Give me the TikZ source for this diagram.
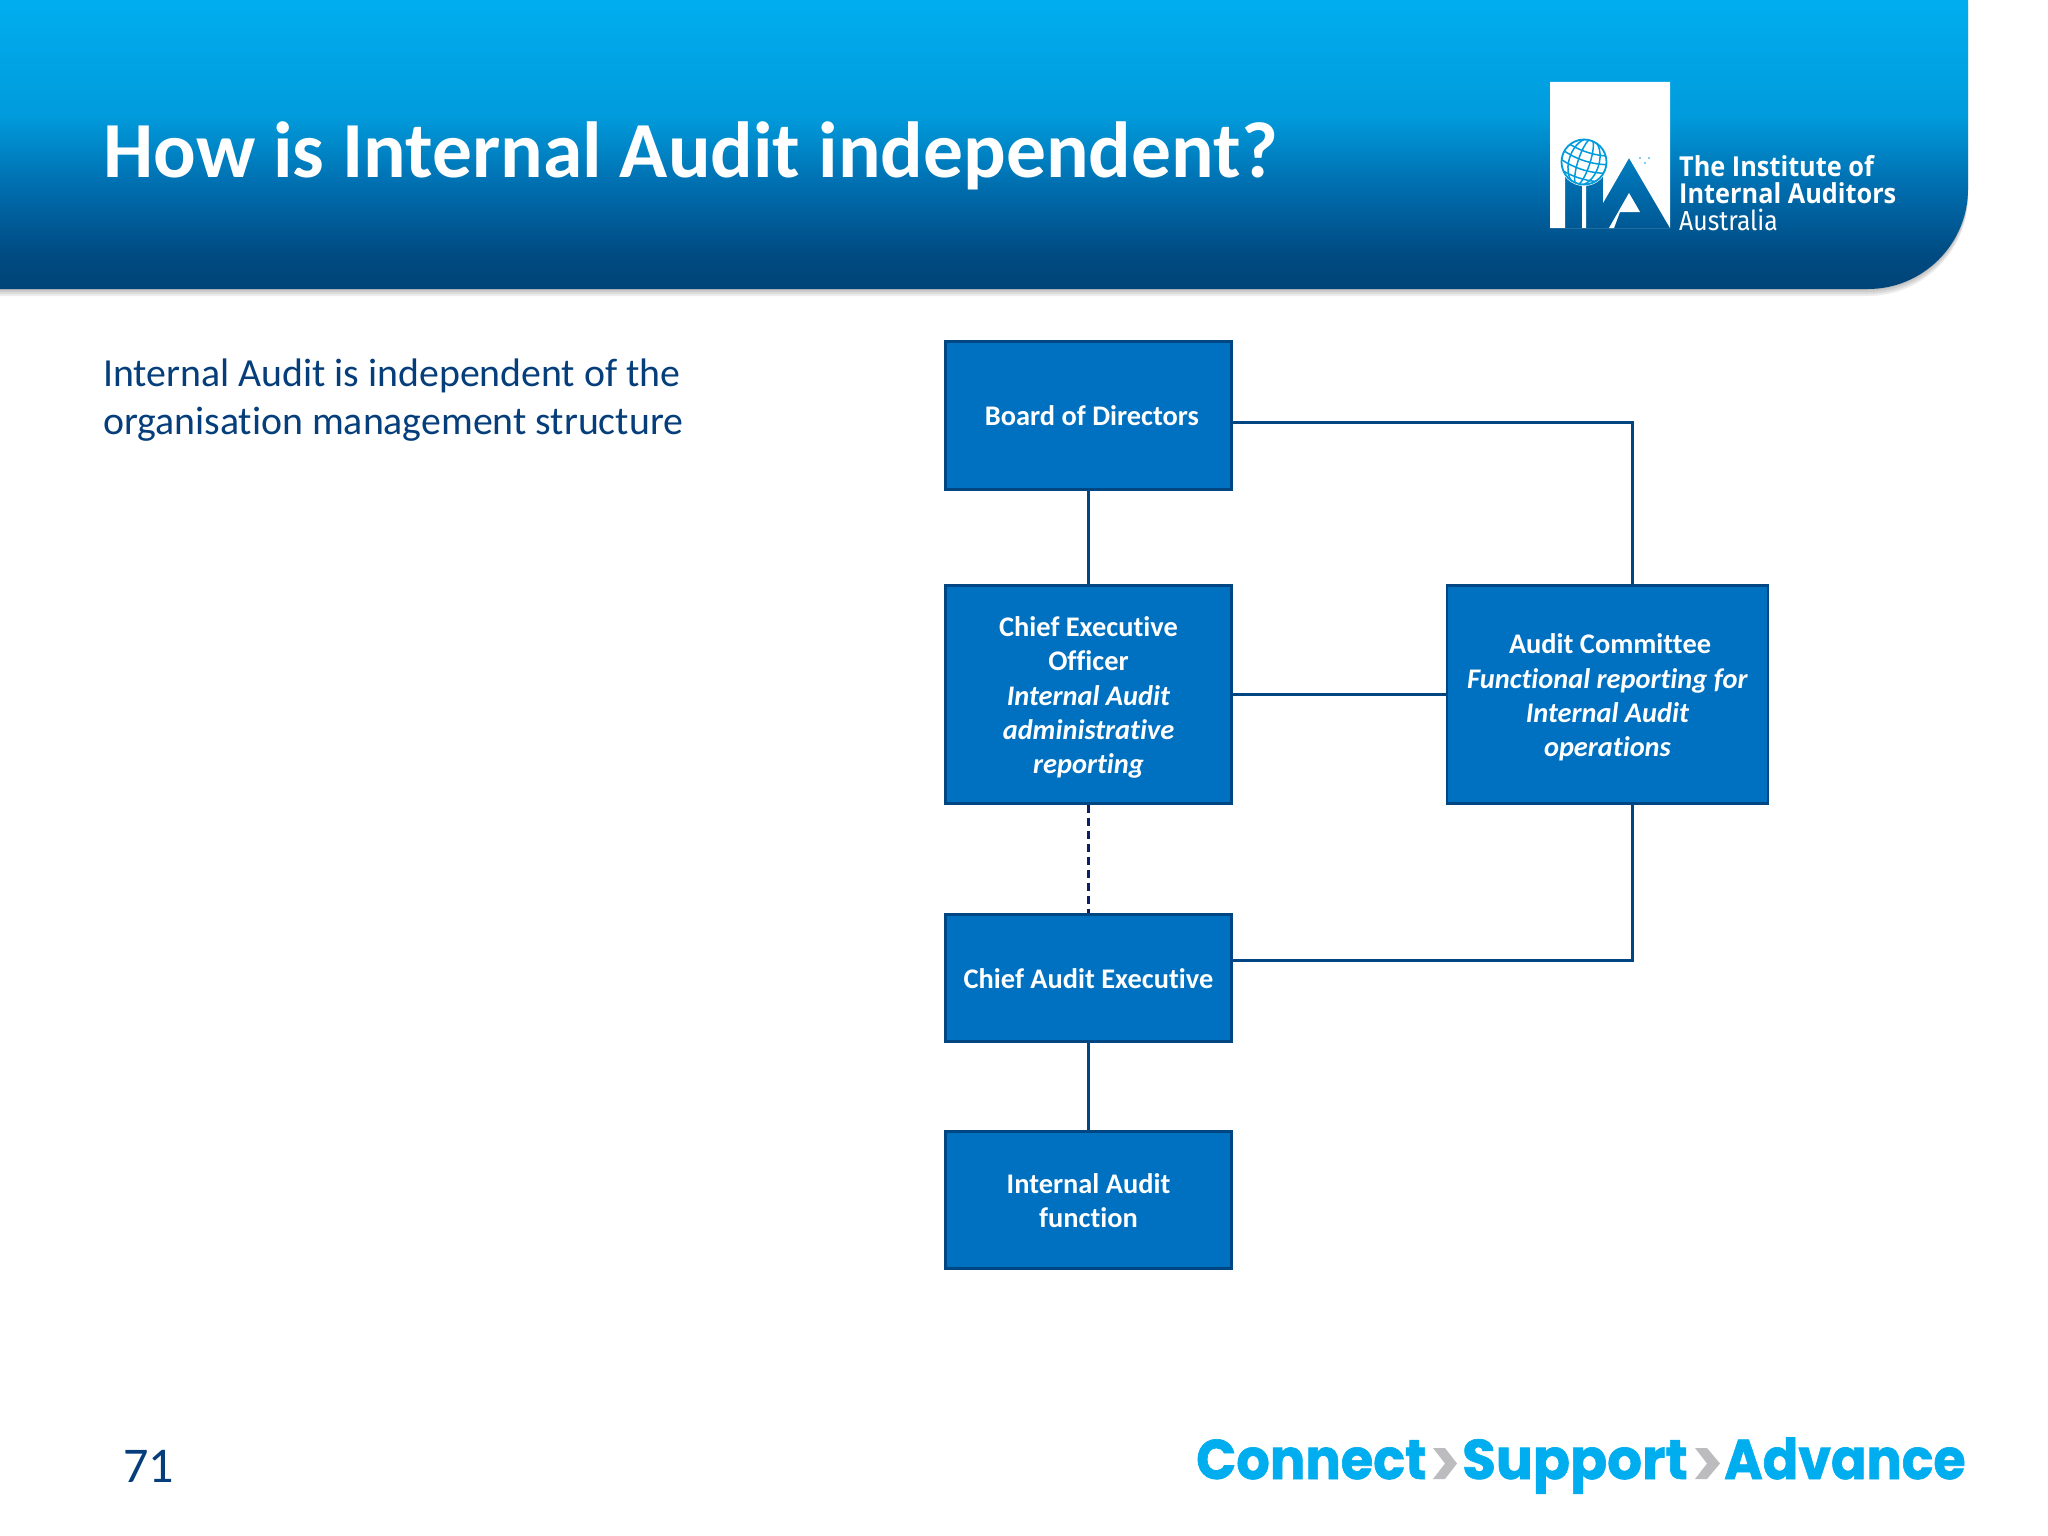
\documentclass[tikz,border=0pt]{standalone}
\usepackage{fontspec}
\setmainfont{Carlito}[Ligatures=CommonOff]
\newfontfamily\logofont{Open Sans}[FakeStretch=0.92]
\newfontfamily\logolight{Fira Sans}[FakeStretch=0.9]
\newfontfamily\tagfont[FakeBold=1.2]{Poppins Bold}
\usetikzlibrary{calc}
\definecolor{hA}{RGB}{0,68,120}
\definecolor{hB}{RGB}{0,75,130}
\definecolor{hC}{RGB}{0,110,175}
\definecolor{hD}{RGB}{0,155,220}
\definecolor{hE}{RGB}{0,174,239}
\definecolor{boxblue}{RGB}{0,112,192}
\definecolor{boxedge}{RGB}{0,70,130}
\definecolor{navy}{RGB}{12,30,100}
\definecolor{bodyblue}{RGB}{5,62,122}
\definecolor{skyblue}{RGB}{0,174,239}
\definecolor{chev}{RGB}{188,188,190}
\pgfdeclareverticalshading{hdrshade}{100bp}{color(0bp)=(hA); color(25bp)=(hA); color(31bp)=(hB); color(43bp)=(hC); color(55bp)=(hD); color(75bp)=(hE); color(100bp)=(hE)}
\newcommand{\topfix}{\rule{0pt}{26pt}}
\newcommand{\topfixs}{\rule{0pt}{21pt}}
\tikzset{
  orgbox/.style={draw=boxedge,line width=2.8pt,fill=boxblue,text=white,align=center,inner sep=0pt,
     font=\fontsize{28.4}{34.4}\selectfont\bfseries},
  link/.style={draw=boxedge,line width=3pt},
  dashlink/.style={draw=navy,line width=3pt,dash pattern=on 8.5pt off 4.5pt},
  tagword/.style={anchor=base west,inner sep=0pt,text=skyblue,font=\fontsize{56}{60}\tagfont},
  logotext/.style={anchor=base west,inner sep=0pt,text=white},
}
\begin{document}
\begin{tikzpicture}[x=1pt,y=-1pt]
\useasboundingbox (0,0) rectangle (2048,1536);
\fill[white] (0,0) rectangle (2048,1536);
% header shadow
\foreach \d in {1,3,5,7}{
  \fill[black,opacity=0.07,shift={(0,\d)}] (0,0) -- (1968,0) -- (1968,189) .. controls (1968,244) and (1923,289) .. (1868,289) -- (0,289) -- cycle;
}
% header
\path[shading=hdrshade] (0,0) -- (1968,0) -- (1968,189) .. controls (1968,244) and (1923,289) .. (1868,289) -- (0,289) -- cycle;
\node[anchor=base west,inner sep=0pt,text=white,font=\fontsize{79.5}{82}\selectfont\bfseries] (title) at (103,178) {How is Internal Audit independent?};
% logo
\fill[white,even odd rule] (1550,82) rectangle (1670,228)
  (1565,228) -- (1565,176) -- (1582,176) -- (1582,228) -- cycle
  (1586,228) -- (1586,176) -- (1603,176) -- (1603,203) -- (1629,158) -- (1670,228) -- cycle;
\fill[white] (1629,193) -- (1640,212) -- (1620,212) -- (1614,228) -- (1609,228) -- cycle;
\fill[white] (1584,162) circle (24);
\begin{scope}
  \clip (1584,162) circle (22.5);
  \foreach \r in {6,15}{\draw[skyblue!70!hC,line width=1.5pt,rotate around={-18:(1584,162)}] (1584,162) ellipse (\r pt and 24pt);}
  \foreach \o in {-14,-5,4,13}{\draw[skyblue!70!hC,line width=1.5pt,rotate around={-18:(1584,162)}] (1560,162+\o) .. controls (1575,162+\o+5) and (1593,162+\o+5) .. (1608,162+\o);}
\end{scope}
\draw[skyblue!70!hC,line width=1.8pt] (1584,162) circle (22.5);
\fill[hD] (1640,158) circle (0.9) (1645,163) circle (0.9) (1649,158) circle (0.9);
\node[logotext,font=\fontsize{27.5}{30}\logofont\bfseries] (l1) at (1679,176) {The Institute of};
\node[logotext,font=\fontsize{27.5}{30}\logofont\bfseries] (l2) at (1679,203) {Internal Auditors};
\node[logotext,font=\fontsize{27.5}{30}\logolight] (l3) at (1679,230) {Australia};
% body text
\node[anchor=north west,inner sep=0pt,text=bodyblue,align=left,font=\fontsize{39.8}{48}\selectfont] (body) at (103,359) {Internal Audit is independent of the\\organisation management structure};
% boxes
\node[orgbox,minimum width=286pt,minimum height=147.5pt] (board) at (1088.5,415.5) {\hspace*{7pt}Board of Directors};
\node[orgbox,minimum width=286pt,minimum height=217.5pt] (ceo) at (1088.5,694.5) {\topfix Chief Executive\\Officer\\\textit{Internal Audit}\\\textit{administrative}\\\textit{reporting}};
\node[orgbox,minimum width=321pt,minimum height=217.5pt] (ac) at (1607.5,694.5) {\topfix\hspace*{5pt}Audit Committee\\\textit{Functional reporting for}\\\textit{Internal Audit}\\\textit{operations}};
\node[orgbox,minimum width=286pt,minimum height=126.5pt] (cae) at (1088.5,978) {\topfixs Chief Audit Executive};
\node[orgbox,minimum width=286pt,minimum height=136.5pt] (ia) at (1088.5,1200) {\topfixs Internal Audit\\function};
% connectors
\coordinate (bturn) at (1632.5,422);
\coordinate (cturn) at (1632.5,960);
\draw[link] (board) -- (ceo);
\draw[link] (ceo) -- (ac);
\draw[link] (cae) -- (ia);
\draw[dashlink] (ceo.south) -- (cae.north);
\draw[link] (board.east |- bturn) -- (bturn) -- (bturn |- ac.north);
\draw[link] (cturn |- ac.south) -- (cturn) -- (cae.east |- cturn);
% page number
\node[anchor=base west,inner sep=0pt,text=bodyblue,font=\fontsize{50}{52}\selectfont] (page) at (123,1482) {71};
% tag line
\node[tagword] (w1) at (1196,1479) {\scalebox{0.94}[1]{Connect}};
\fill[chev] (1433,1448) -- (1445,1448) -- (1457,1463.5) -- (1445,1479) -- (1433,1479) -- (1445,1463.5) -- cycle;
\node[tagword] (w2) at (1462,1479) {\scalebox{0.978}[1]{Support}};
\fill[chev] (1695,1448) -- (1707,1448) -- (1720,1463.5) -- (1707,1479) -- (1695,1479) -- (1707,1463.5) -- cycle;
\node[tagword] (w3) at (1724,1479) {\scalebox{0.934}[1]{Advance}};
\end{tikzpicture}
\end{document}
